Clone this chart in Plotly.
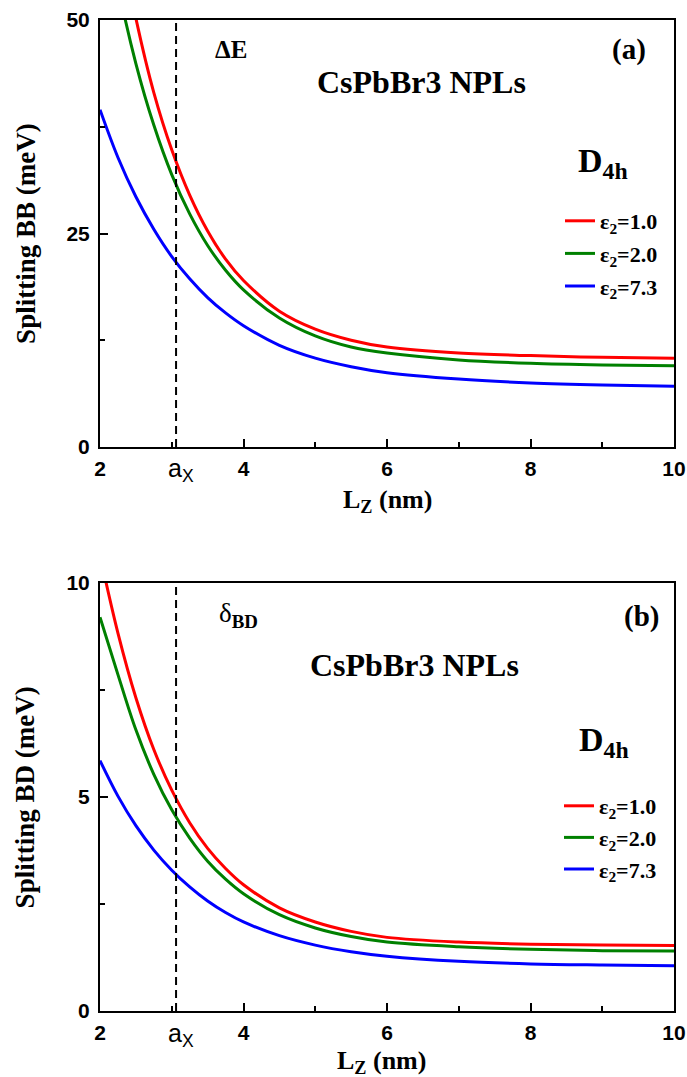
import plotly.graph_objects as go

# ---------------- data ----------------
lz = [2.0, 2.25, 2.5, 2.75, 3.0, 3.25, 3.5, 3.75, 4.0, 4.5, 5.0, 5.5, 6.0, 7.0, 8.0, 9.0, 10.0]

bb_eps1 = [75.0, 61.0, 50.2, 41.5, 34.8, 29.5, 25.3, 22.0, 19.5, 15.9, 13.8, 12.5, 11.7, 11.0, 10.7, 10.5, 10.4]
bb_eps2 = [65.4, 54.0, 44.9, 37.7, 31.9, 27.3, 23.6, 20.7, 18.4, 15.1, 13.0, 11.7, 11.0, 10.2, 9.8, 9.6, 9.5]
bb_eps7 = [39.5, 33.9, 29.3, 25.5, 22.3, 19.7, 17.5, 15.7, 14.2, 11.9, 10.4, 9.4, 8.7, 7.95, 7.5, 7.25, 7.1]

bd_eps1 = [10.65, 8.83, 7.32, 6.11, 5.16, 4.40, 3.80, 3.33, 2.95, 2.41, 2.08, 1.86, 1.72, 1.61, 1.56, 1.54, 1.53]
bd_eps2 = [9.2, 7.86, 6.57, 5.53, 4.70, 4.04, 3.50, 3.08, 2.74, 2.25, 1.94, 1.74, 1.61, 1.50, 1.44, 1.41, 1.40]
bd_eps7 = [5.85, 5.02, 4.33, 3.76, 3.29, 2.90, 2.57, 2.30, 2.08, 1.76, 1.54, 1.385, 1.28, 1.16, 1.10, 1.075, 1.06]

eps_labels = ["ε<sub>2</sub>=1.0", "ε<sub>2</sub>=2.0", "ε<sub>2</sub>=7.3"]
colors = ["#FF0000", "#008000", "#0000FF"]
a_x = 3.06

SERIF = "Liberation Serif"
SANS = "Liberation Sans"

fig = go.Figure()

top = [bb_eps1, bb_eps2, bb_eps7]
bot = [bd_eps1, bd_eps2, bd_eps7]
for i in range(3):
    fig.add_trace(go.Scatter(x=lz, y=top[i], mode="lines", name=eps_labels[i],
                             line=dict(color=colors[i], width=3, shape="spline", smoothing=1.0),
                             xaxis="x", yaxis="y", legend="legend", legendgroup="t%d" % i))
for i in range(3):
    fig.add_trace(go.Scatter(x=lz, y=bot[i], mode="lines", name=eps_labels[i],
                             line=dict(color=colors[i], width=3, shape="spline", smoothing=1.0),
                             xaxis="x2", yaxis="y2", legend="legend2"))

# dashed a_x lines
for xr, yr in (("x", "y"), ("x2", "y2")):
    fig.add_shape(type="line", xref=xr, yref=yr + " domain", x0=a_x, x1=a_x, y0=0, y1=1,
                  line=dict(color="black", width=2, dash="8px,5px"))

tickfont = dict(family=SANS, size=21, color="black", weight="bold")
axis_common = dict(showline=True, linecolor="black", linewidth=2, mirror=True,
                   ticks="inside", ticklen=8, tickwidth=2, tickcolor="black",
                   showgrid=False, zeroline=False, tickfont=tickfont, automargin=False)

H_TOP = (1011 - 447) / 991

fig.update_layout(
    width=687, height=1077,
    margin=dict(l=100, r=13, t=20, b=66, autoexpand=False),
    paper_bgcolor="white", plot_bgcolor="white",
    xaxis=dict(domain=[0, 1], range=[2, 10], dtick=2, anchor="y", ticklabelstandoff=2,
               minor=dict(ticks="inside", ticklen=5, tickwidth=2, dtick=1, tickcolor="black"),
               **axis_common),
    yaxis=dict(domain=[H_TOP, 1], range=[0, 50], dtick=25, anchor="x", ticklabelstandoff=4,
               minor=dict(ticks="inside", ticklen=5, tickwidth=2, dtick=12.5, tickcolor="black"),
               **axis_common),
    xaxis2=dict(domain=[0, 1], range=[2, 10], dtick=2, anchor="y2", ticklabelstandoff=2,
                minor=dict(ticks="inside", ticklen=5, tickwidth=2, dtick=1, tickcolor="black"),
                **axis_common),
    yaxis2=dict(domain=[0, (1011 - 583) / 991], range=[0, 10], dtick=5, anchor="x2", ticklabelstandoff=4,
                minor=dict(ticks="inside", ticklen=5, tickwidth=2, dtick=2.5, tickcolor="black"),
                **axis_common),
    legend=dict(x=(560 - 100) / 574, y=(1011 - 200) / 991, xanchor="left", yanchor="top",
                font=dict(family=SERIF, size=22, color="black", weight="bold"),
                bgcolor="rgba(0,0,0,0)", tracegroupgap=1),
    legend2=dict(x=(559 - 100) / 574, y=(1011 - 785) / 991, xanchor="left", yanchor="top",
                 font=dict(family=SERIF, size=22, color="black", weight="bold"),
                 bgcolor="rgba(0,0,0,0)"),
)

def ann(text, x, y, xref, yref, size, family=SERIF, bold=True, xanchor="center", **kw):
    fig.add_annotation(text=text, x=x, y=y, xref=xref, yref=yref, showarrow=False,
                       xanchor=xanchor, yanchor="middle",
                       font=dict(family=family, size=size, color="black",
                                 weight="bold" if bold else "normal"), **kw)

# top panel annotations
ann("ΔE", 0.229, 0.930, "x domain", "y domain", 25)
ann("CsPbBr3 NPLs", 0.560, 0.855, "x domain", "y domain", 32)
ann("(a)", 0.921, 0.930, "x domain", "y domain", 29)
ann("D<sub>4h</sub>", (575 - 100) / 573, (447 - 163) / 427, "x domain", "y domain", 34, xanchor="left")
ann("a<sub>X</sub>", 0.141, -0.055, "x domain", "y domain", 25, family=SANS, bold=False)
ann("L<sub>Z</sub> (nm)", 0.50, -0.127, "x domain", "y domain", 26)
ann("Splitting BB (meV)", -0.13, 0.5, "x domain", "y domain", 27, textangle=-90)

# bottom panel annotations
ann("δ<sub><b>BD</b></sub>", 0.241, 0.925, "x2 domain", "y2 domain", 27, bold=False)
ann("CsPbBr3 NPLs", 0.548, 0.808, "x2 domain", "y2 domain", 32)
ann("(b)", 0.944, 0.921, "x2 domain", "y2 domain", 29)
ann("D<sub>4h</sub>", (576 - 100) / 573, (1011 - 742) / 428, "x2 domain", "y2 domain", 34, xanchor="left")
ann("a<sub>X</sub>", 0.141, -0.055, "x2 domain", "y2 domain", 25, family=SANS, bold=False)
ann("L<sub>Z</sub> (nm)", 0.49, -0.12, "x2 domain", "y2 domain", 26)
ann("Splitting BD (meV)", -0.13, 0.5, "x2 domain", "y2 domain", 27, textangle=-90)

fig.write_html("out.html", post_script="document.body.style.margin='0px';",
               config={"displayModeBar": False})
